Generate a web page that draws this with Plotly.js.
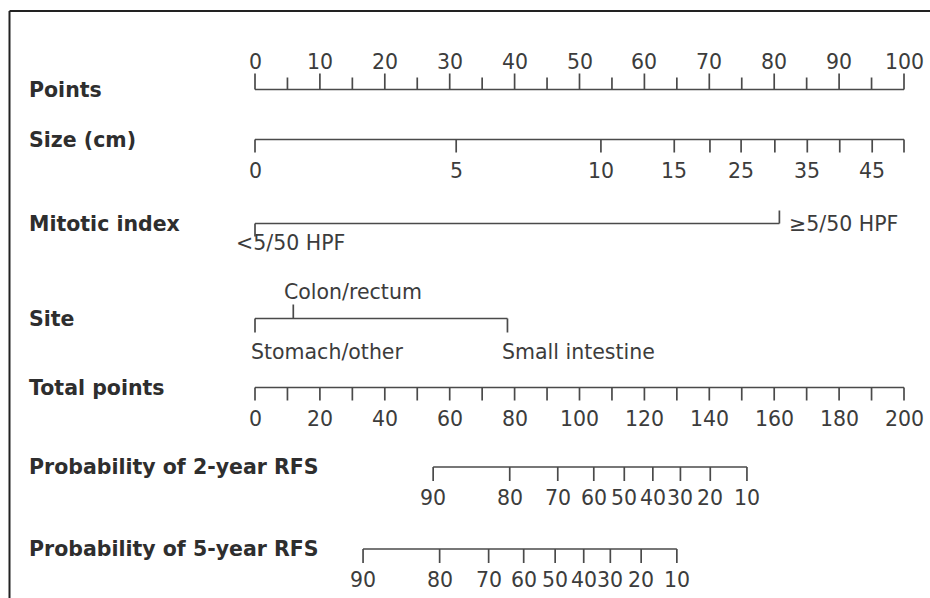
<!DOCTYPE html>
<html>
<head>
<meta charset="utf-8">
<script src="https://cdn.plot.ly/plotly-3.0.1.min.js"></script>
<style>html,body{margin:0;padding:0;background:#fff}#chart{width:930px;height:598px}</style>
</head>
<body>
<div id="chart"></div>
<script>
// ---------------- data ----------------
const rowNames = ['Points','Size (cm)','Mitotic index','Site','Total points','Probability of 2-year RFS','Probability of 5-year RFS'];

const pointsTicks  = [0,5,10,15,20,25,30,35,40,45,50,55,60,65,70,75,80,85,90,95,100];
const pointsLabels = [0,10,20,30,40,50,60,70,80,90,100];

const sizeValues   = [0,5,10,15,20,25,30,35,40,45,50];
const sizePoints   = [0,31.0,53.3,64.6,70.1,74.9,80.1,85.1,90.1,95.1,100];
const sizeLabelled = [0,5,10,15,25,35,45];

const mitoticLevels = ['<5/50 HPF','≥5/50 HPF'];
const mitoticPoints = [0,80.8];

const siteLevels = ['Stomach/other','Colon/rectum','Small intestine'];
const sitePoints = [0,5.9,38.9];

const totalTicks  = [0,10,20,30,40,50,60,70,80,90,100,110,120,130,140,150,160,170,180,190,200];
const totalLabels = [0,20,40,60,80,100,120,140,160,180,200];

const rfs2Probs = [90,80,70,60,50,40,30,20,10];
const rfs2Total = [54.9,78.5,93.3,104.4,113.8,122.6,131.1,140.3,151.6];

const rfs5Probs = [90,80,70,60,50,40,30,20,10];
const rfs5Total = [33.3,56.9,72.0,82.8,92.5,101.3,109.5,119.0,130.0];

// ---------------- layout constants ----------------
const W = 930, H = 598;
const X0 = 255, PXPT = 6.49;            // pixel of 0 points and pixels per point
const rowY = [89.5,139.5,223.5,318.5,387.5,467,549]; // pixel rows
const nameX = 27;
const lineColor = '#4a4a4a', textColor = '#3c3c3c';
const tickFont = {family:'DejaVu Sans, sans-serif', size:20.5, color:textColor};
const nameFont = {family:'DejaVu Sans, sans-serif', size:20.5, color:'#2e2e2e'};

const tot2pts = t => t * 100 / 200;   // total points -> points axis

const traces = [];
const ann = [];

function axisLine(xs, y) {
  traces.push({type:'scatter', mode:'lines', x:[Math.min(...xs), Math.max(...xs)], y:[y,y],
    line:{color:lineColor, width:1.7}, hoverinfo:'skip', showlegend:false});
}
function tickMarks(xs, y, lens) {
  const tx = [], ty = [];
  xs.forEach((x,i) => { tx.push(x,x,null); ty.push(y, y + lens[i], null); });
  traces.push({type:'scatter', mode:'lines', x:tx, y:ty,
    line:{color:lineColor, width:1.7}, hoverinfo:'skip', showlegend:false});
}
function label(text, x, y, opts) {
  ann.push(Object.assign({text:String(text), x:x, y:y, xref:'x', yref:'y', showarrow:false,
    xanchor:'center', yanchor:'middle', font:tickFont}, opts||{}));
}

// Row names
rowNames.forEach((n,i) => ann.push({text:'<b>'+n+'</b>', x:nameX/W, y:rowY[i], xref:'paper', yref:'y',
  xanchor:'left', yanchor:'middle', showarrow:false, font:nameFont}));

// Points
axisLine(pointsTicks, rowY[0]);
tickMarks(pointsTicks, rowY[0], pointsTicks.map(v => v % 10 === 0 ? -16 : -12));
pointsLabels.forEach(v => label(v, v, rowY[0] - 28));

// Size
axisLine(sizePoints, rowY[1]);
tickMarks(sizePoints, rowY[1], sizePoints.map(() => 13));
sizeValues.forEach((v,i) => { if (sizeLabelled.includes(v)) label(v, sizePoints[i], rowY[1] + 31); });

// Mitotic index
axisLine(mitoticPoints, rowY[2]);
tickMarks(mitoticPoints, rowY[2], [13,-13]);
label(mitoticLevels[0], mitoticPoints[0], rowY[2] + 19, {xanchor:'left', xshift:-21});
label(mitoticLevels[1], mitoticPoints[1], rowY[2], {xanchor:'left', xshift:8});

// Site
axisLine(sitePoints, rowY[3]);
tickMarks(sitePoints, rowY[3], [14,-14,14]);
label(siteLevels[0], sitePoints[0], rowY[3] + 33, {xanchor:'left', xshift:-6});
label(siteLevels[1], sitePoints[1], rowY[3] - 27, {xanchor:'left', xshift:-11});
label(siteLevels[2], sitePoints[2], rowY[3] + 33, {xanchor:'left', xshift:-7});

// Total points
const totalX = totalTicks.map(tot2pts);
axisLine(totalX, rowY[4]);
tickMarks(totalX, rowY[4], totalTicks.map(() => 13));
totalLabels.forEach(v => label(v, tot2pts(v), rowY[4] + 31));

// 2-year RFS
const r2x = rfs2Total.map(tot2pts);
axisLine(r2x, rowY[5]);
tickMarks(r2x, rowY[5], r2x.map(() => 14));
rfs2Probs.forEach((p,i) => label(p, r2x[i], rowY[5] + 31));

// 5-year RFS
const r5x = rfs5Total.map(tot2pts);
axisLine(r5x, rowY[6]);
tickMarks(r5x, rowY[6], r5x.map(() => 14));
rfs5Probs.forEach((p,i) => label(p, r5x[i], rowY[6] + 31));

const layout = {
  width:W, height:H, margin:{l:0,r:0,t:0,b:0},
  paper_bgcolor:'#fff', plot_bgcolor:'#fff', showlegend:false,
  xaxis:{range:[-X0/PXPT, (W - X0)/PXPT], visible:false, fixedrange:true},
  yaxis:{range:[H,0], visible:false, fixedrange:true},
  annotations:ann,
  shapes:[
    {type:'line', xref:'paper', yref:'paper', x0:9.5/W, x1:1, y0:1-11/H, y1:1-11/H, line:{color:'#222', width:2}},
    {type:'line', xref:'paper', yref:'paper', x0:9.5/W, x1:9.5/W, y0:1-11/H, y1:0, line:{color:'#222', width:2}}
  ]
};
Plotly.newPlot('chart', traces, layout, {displayModeBar:false, staticPlot:true});
</script>
</body>
</html>
